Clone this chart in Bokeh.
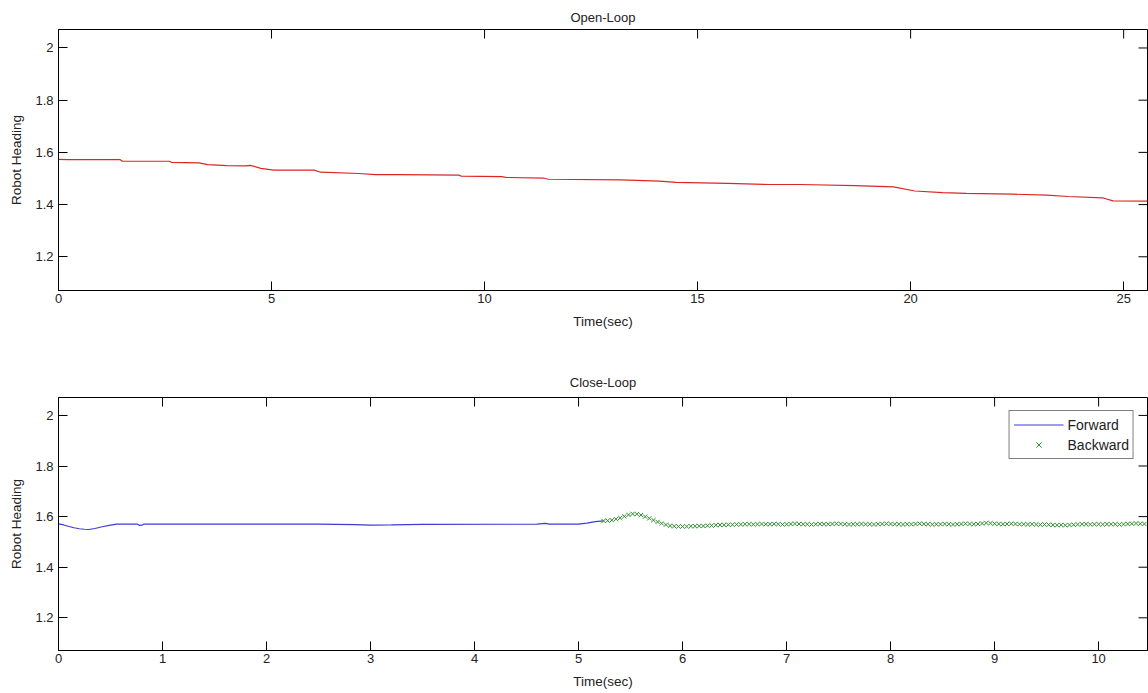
import numpy as np
from bokeh.plotting import figure
from bokeh.layouts import column
from bokeh.models import FixedTicker, Range1d, Legend, LegendItem
from bokeh.embed import file_html
from bokeh.resources import INLINE

# ---------------- data ----------------
open_t = [0, 0.2, 1.45, 1.5, 2.6, 2.65, 3.3, 3.5, 3.95, 4.4, 4.5, 4.75, 5.05, 6.0, 6.15,
          7.05, 7.45, 8.0, 9.4, 9.45, 10.4, 10.5, 11.4, 11.5, 13.2, 14.1, 14.5, 15.7, 16.7,
          17.4, 18.7, 19.6, 20.1, 20.75, 21.3, 22.4, 23.2, 23.7, 24.5, 24.75, 25.56]
open_h = [1.573, 1.572, 1.572, 1.566, 1.566, 1.562, 1.560, 1.553, 1.549, 1.548, 1.550, 1.539,
          1.532, 1.532, 1.524, 1.519, 1.515, 1.515, 1.513, 1.509, 1.507, 1.504, 1.501, 1.497,
          1.495, 1.490, 1.485, 1.481, 1.477, 1.477, 1.473, 1.468, 1.452, 1.446, 1.443, 1.440,
          1.436, 1.431, 1.426, 1.414, 1.413]

fwd_t = [0, 0.05, 0.1, 0.15, 0.2, 0.25, 0.29, 0.35, 0.42, 0.5, 0.56, 0.7, 0.76, 0.78, 0.8,
         0.82, 1.5, 2.5, 2.85, 3.0, 3.2, 3.5, 4.6, 4.68, 4.72, 5.0, 5.08, 5.16, 5.24]
fwd_h = [1.571, 1.567, 1.561, 1.556, 1.552, 1.550, 1.549, 1.553, 1.560, 1.566, 1.570, 1.570,
         1.570, 1.565, 1.566, 1.570, 1.570, 1.570, 1.568, 1.566, 1.567, 1.569, 1.570, 1.573,
         1.570, 1.570, 1.574, 1.580, 1.583]

bwd_t = [5.24, 5.28, 5.32, 5.36, 5.40, 5.44, 5.48, 5.52, 5.56, 5.60, 5.64, 5.68, 5.72, 5.76,
         5.80, 5.84, 5.88, 5.92, 5.96,
         6.00, 6.04, 6.08, 6.12, 6.16, 6.20, 6.24, 6.28, 6.32, 6.36, 6.40, 6.44, 6.48, 6.52,
         6.56, 6.60, 6.64, 6.68, 6.72, 6.76, 6.80, 6.84, 6.88, 6.92, 6.96,
         7.00, 7.04, 7.08, 7.12, 7.16, 7.20, 7.24, 7.28, 7.32, 7.36, 7.40, 7.44, 7.48, 7.52,
         7.56, 7.60, 7.64, 7.68, 7.72, 7.76, 7.80, 7.84, 7.88, 7.92, 7.96,
         8.00, 8.04, 8.08, 8.12, 8.16, 8.20, 8.24, 8.28, 8.32, 8.36, 8.40, 8.44, 8.48, 8.52,
         8.56, 8.60, 8.64, 8.68, 8.72, 8.76, 8.80, 8.84, 8.88, 8.92, 8.96,
         9.00, 9.04, 9.08, 9.12, 9.16, 9.20, 9.24, 9.28, 9.32, 9.36, 9.40, 9.44, 9.48, 9.52,
         9.56, 9.60, 9.64, 9.68, 9.72, 9.76, 9.80, 9.84, 9.88, 9.92, 9.96,
         10.00, 10.04, 10.08, 10.12, 10.16, 10.20, 10.24, 10.28, 10.32, 10.36, 10.40, 10.44]
bwd_h = [1.583, 1.584, 1.586, 1.590, 1.595, 1.601, 1.607, 1.611, 1.610, 1.606,
         1.600, 1.593, 1.586, 1.579, 1.573, 1.568, 1.564, 1.562, 1.561, 1.561,
         1.561, 1.562, 1.562, 1.563, 1.563, 1.564, 1.565, 1.566, 1.567, 1.567, 1.568,
         1.568, 1.569, 1.569, 1.570, 1.570, 1.569, 1.570, 1.571, 1.570, 1.570,
         1.571, 1.570, 1.569, 1.570, 1.571, 1.572, 1.571, 1.570, 1.570, 1.569,
         1.570, 1.571, 1.570, 1.570, 1.571, 1.572, 1.571, 1.570, 1.569, 1.570,
         1.570, 1.571, 1.570, 1.570, 1.569, 1.570, 1.571, 1.572, 1.571, 1.570,
         1.570, 1.569, 1.570, 1.570, 1.571, 1.572, 1.571, 1.570, 1.569, 1.570,
         1.570, 1.571, 1.570, 1.569, 1.570, 1.571, 1.572, 1.571, 1.570, 1.571,
         1.573, 1.575, 1.574, 1.572, 1.571, 1.570, 1.571, 1.572, 1.571, 1.570,
         1.570, 1.569, 1.570, 1.569, 1.568, 1.569, 1.568, 1.567, 1.566, 1.567,
         1.566, 1.567, 1.568, 1.569, 1.570, 1.570, 1.569, 1.570, 1.570, 1.569,
         1.570, 1.570, 1.570, 1.569, 1.570, 1.571, 1.572, 1.573, 1.572, 1.571]

y_ticks = [1.2, 1.4, 1.6, 1.8, 2.0]
y_tick_labels = {1.2: "1.2", 1.4: "1.4", 1.6: "1.6", 1.8: "1.8", 2: "2"}
top_x_ticks = [0, 5, 10, 15, 20, 25]
bot_x_ticks = [0, 1, 2, 3, 4, 5, 6, 7, 8, 9, 10]

FONT = "Liberation Sans"
TXT = "#222222"
TICK_IN = 9


def style(p, xticks, title, xr, yr, title_standoff):
    p.title.text = title
    p.title.align = "center"
    p.title.text_font = FONT
    p.title.text_font_style = "normal"
    p.title.text_font_size = "13px"
    p.title.text_color = TXT
    p.title.standoff = title_standoff
    p.outline_line_color = "black"
    p.outline_line_width = 1
    p.xgrid.visible = False
    p.ygrid.visible = False
    p.background_fill_color = "white"
    p.border_fill_color = "white"
    for ax in p.xaxis + p.yaxis:
        ax.axis_line_color = "black"
        ax.major_tick_line_color = "black"
        ax.minor_tick_line_color = None
        ax.major_tick_in = TICK_IN
        ax.major_tick_out = 0
        ax.major_label_text_font = FONT
        ax.major_label_text_font_size = "13px"
        ax.major_label_text_color = TXT
        ax.axis_label_text_font = FONT
        ax.axis_label_text_font_size = "13.5px"
        ax.axis_label_text_font_style = "normal"
        ax.axis_label_text_color = TXT
    p.xaxis.ticker = FixedTicker(ticks=xticks)
    p.yaxis.ticker = FixedTicker(ticks=y_ticks)
    p.yaxis.major_label_overrides = y_tick_labels
    p.xaxis.axis_label = "Time(sec)"
    p.yaxis.axis_label = "Robot Heading"
    p.xaxis.major_label_standoff = 3
    p.xaxis.axis_label_standoff = 8
    p.yaxis.major_label_standoff = 5
    p.yaxis.axis_label_standoff = 8
    # mirrored inward ticks on the top and right frame edges (clipped to the frame)
    p.scatter(xticks, [yr[1]] * len(xticks), marker="dash", angle=np.pi / 2,
              size=2 * TICK_IN, line_color="black", line_width=1)
    p.scatter([xr[1]] * len(y_ticks), y_ticks, marker="dash",
              size=2 * TICK_IN, line_color="black", line_width=1)


yr = (1.0708, 2.0708)
xr1 = (0, 25.56)
xr2 = (0, 10.47)

p1 = figure(width=1148, height=345, output_backend="svg", toolbar_location=None,
            x_range=Range1d(*xr1), y_range=Range1d(*yr),
            min_border_left=58, min_border_right=1, min_border_top=29, min_border_bottom=55)
style(p1, top_x_ticks, "Open-Loop", xr1, yr, 10)
p1.line(open_t, open_h, line_color="#dc2626", line_width=1.2)

p2 = figure(width=1148, height=348, output_backend="svg", toolbar_location=None,
            x_range=Range1d(*xr2), y_range=Range1d(*yr),
            min_border_left=58, min_border_right=1, min_border_top=52, min_border_bottom=43)
style(p2, bot_x_ticks, "Close-Loop", xr2, yr, 16)
r_fwd = p2.line(fwd_t, fwd_h, line_color="#3c3cd6", line_width=1.2)
r_bwd = p2.scatter(bwd_t, bwd_h, marker="x", size=6, line_color="#2f8f2f", line_width=1)

legend = Legend(items=[LegendItem(label="Forward", renderers=[r_fwd]),
                       LegendItem(label="Backward", renderers=[r_bwd])],
                location="top_right")
legend.label_text_font = FONT
legend.label_text_font_size = "14px"
legend.label_text_color = TXT
legend.border_line_color = "black"
legend.border_line_width = 1
legend.glyph_width = 50
legend.glyph_height = 19
legend.label_height = 19
legend.spacing = 1
legend.padding = 4
legend.margin = 13
legend.label_standoff = 4
legend.background_fill_alpha = 1
p2.add_layout(legend, "center")

layout = column(p1, p2, spacing=0)
open("out.html", "w").write(file_html(layout, INLINE))
